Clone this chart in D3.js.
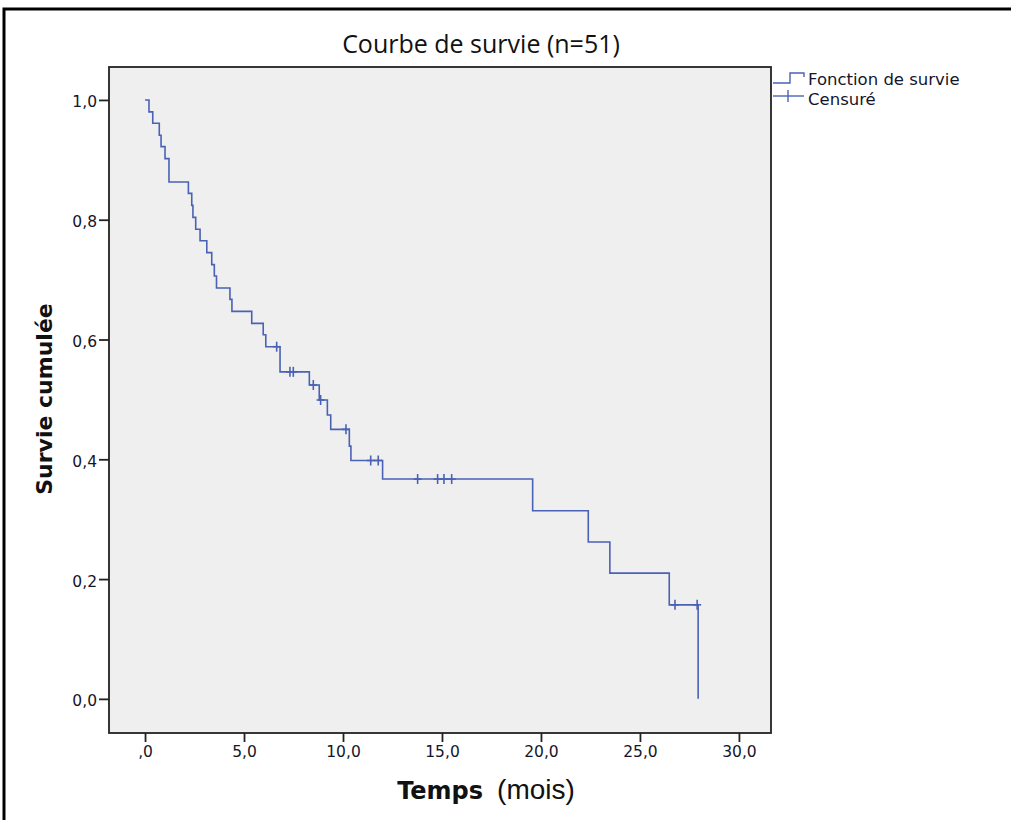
<!DOCTYPE html>
<html>
<head>
    <meta charset="utf-8">
    <title>Courbe de survie</title>
    <style type="text/css">
        body{
            margin:0;
            padding:0;
            background:#fff;
        }
        .frame {
            fill: #efefef;
            stroke: #222;
            stroke-width: 1.8px;
        }
        .axis path, .axis line {
            stroke: #222;
            stroke-width: 1.8px;
        }
        .axis text {
            font-family: 'DejaVu Sans', sans-serif;
            font-size: 15.5px;
            fill: #15152a;
        }
        .survie {
            fill: none;
            stroke: #4a62b5;
            stroke-width: 1.6px;
        }
        .censor {
            stroke: #4a62b5;
            stroke-width: 1.6px;
        }
    </style>
</head>
<body>
<div id="chart"></div>

<script src="https://cdn.jsdelivr.net/npm/d3@7"></script>
<script>

// temps des décès (mois) et survie cumulée après chaque décès
var stepTimes = [0.20, 0.39, 0.72, 0.81, 1.01, 1.21, 2.19, 2.36, 2.42, 2.56, 2.78, 3.12, 3.37, 3.50, 3.61,
                 4.29, 4.39, 5.39, 5.97, 6.10, 6.82, 8.30, 8.80, 9.21, 9.38, 10.32, 10.40, 12.00,
                 19.58, 22.39, 23.48, 26.48, 27.94];
var stepSurv = [0.980, 0.961, 0.941, 0.922, 0.902, 0.863, 0.844, 0.824, 0.804, 0.784, 0.765, 0.745, 0.725, 0.706, 0.686,
                0.667, 0.647, 0.627, 0.608, 0.588, 0.546, 0.524, 0.499, 0.474, 0.450, 0.422, 0.398, 0.367,
                0.314, 0.262, 0.210, 0.157, 0.0];
// observations censurées
var censorTimes = [6.65, 7.32, 7.49, 8.50, 8.87, 10.15, 11.40, 11.78, 13.77, 14.78, 15.10, 15.49, 26.77, 27.89];

var xTicks = [0, 5, 10, 15, 20, 25, 30];
var yTicks = [0, 0.2, 0.4, 0.6, 0.8, 1.0];

var width = 1011,
    height = 820;

var plot = {left: 109, top: 67, right: 771, bottom: 733};

var x = d3.scaleLinear()
    .domain([-1.82, 31.62])
    .range([plot.left, plot.right]);

var y = d3.scaleLinear()
    .domain([-0.057, 1.055])
    .range([plot.bottom, plot.top]);

var svg = d3.select("#chart").append("svg")
    .attr("width", width)
    .attr("height", height);

// cadre extérieur
svg.append("path")
    .attr("d", "M4,820 L4,9 L1011,9")
    .attr("fill", "none")
    .attr("stroke", "#000")
    .attr("stroke-width", 3);

svg.append("rect")
    .attr("class", "frame")
    .attr("x", plot.left)
    .attr("y", plot.top)
    .attr("width", plot.right - plot.left)
    .attr("height", plot.bottom - plot.top);

var fmt = function(d) { return d.toFixed(1).replace(".", ","); };

svg.append("g")
    .attr("class", "axis")
    .attr("transform", "translate(0," + plot.bottom + ")")
    .call(d3.axisBottom(x).tickValues(xTicks).tickSizeOuter(0).tickSize(9).tickPadding(4)
        .tickFormat(function(d) { return d === 0 ? ",0" : fmt(d); }))
    .call(function(g) { g.select(".domain").remove(); });

svg.append("g")
    .attr("class", "axis")
    .attr("transform", "translate(" + plot.left + ",0)")
    .call(d3.axisLeft(y).tickValues(yTicks).tickSizeOuter(0).tickSize(10).tickPadding(2)
        .tickFormat(fmt))
    .call(function(g) { g.select(".domain").remove(); })
    .selectAll("text").attr("dy", "0.45em");

// courbe de survie
var pts = [[0, 1]].concat(stepTimes.map(function(t, i) { return [t, stepSurv[i]]; }));

var line = d3.line()
    .x(function(d) { return x(d[0]); })
    .y(function(d) { return y(d[1]); })
    .curve(d3.curveStepAfter);

svg.append("path")
    .attr("class", "survie")
    .attr("d", line(pts));

function survAt(t) {
    var s = 1;
    stepTimes.forEach(function(st, i) { if (st <= t) s = stepSurv[i]; });
    return s;
}

var cg = svg.append("g").selectAll("g")
    .data(censorTimes)
    .enter().append("g")
    .attr("transform", function(d) { return "translate(" + x(d) + "," + y(survAt(d)) + ")"; });
cg.append("line").attr("class", "censor").attr("x1", 0).attr("x2", 0).attr("y1", -5).attr("y2", 5);
cg.append("line").attr("class", "censor").attr("x1", -4).attr("x2", 4).attr("y1", 0).attr("y2", 0);

// titre
svg.append("text")
    .attr("x", 481)
    .attr("y", 53)
    .attr("text-anchor", "middle")
    .style("font-family", "'Open Sans', sans-serif")
    .style("font-size", "25px")
    .style("fill", "#111")
    .text("Courbe de survie (n=51)");

// légende
var lg = svg.append("g").attr("transform", "translate(773,0)");
lg.append("path")
    .attr("d", "M0,83 L17,83 L17,73 L31,73 L31,77")
    .attr("fill", "none")
    .attr("stroke", "#4a62b5")
    .attr("stroke-width", 1.4);
lg.append("line").attr("x1", 0).attr("x2", 31).attr("y1", 96).attr("y2", 96)
    .attr("stroke", "#4a62b5").attr("stroke-width", 1.4);
lg.append("line").attr("x1", 15).attr("x2", 15).attr("y1", 90).attr("y2", 102)
    .attr("stroke", "#4a62b5").attr("stroke-width", 1.4);
lg.selectAll("text")
    .data(["Fonction de survie", "Censuré"])
    .enter().append("text")
    .attr("x", 35)
    .attr("y", function(d, i) { return 85 + i * 20; })
    .style("font-family", "'DejaVu Sans', sans-serif")
    .style("font-size", "16.5px")
    .style("fill", "#15152a")
    .text(function(d) { return d; });

// titres des axes
svg.append("text")
    .attr("transform", "translate(52,399) rotate(-90)")
    .attr("text-anchor", "middle")
    .style("font-family", "'DejaVu Sans', sans-serif")
    .style("font-weight", "bold")
    .style("font-size", "22px")
    .style("fill", "#111")
    .text("Survie cumulée");

var xl = svg.append("text")
    .attr("x", 486)
    .attr("y", 799)
    .attr("text-anchor", "middle")
    .style("fill", "#111");
xl.append("tspan")
    .style("font-family", "'DejaVu Sans', sans-serif")
    .style("font-weight", "bold")
    .style("font-size", "24px")
    .text("Temps");
xl.append("tspan")
    .attr("dx", 14)
    .style("font-family", "'Liberation Sans', sans-serif")
    .style("font-size", "28px")
    .text("(mois)");

</script>
</body>
</html>
